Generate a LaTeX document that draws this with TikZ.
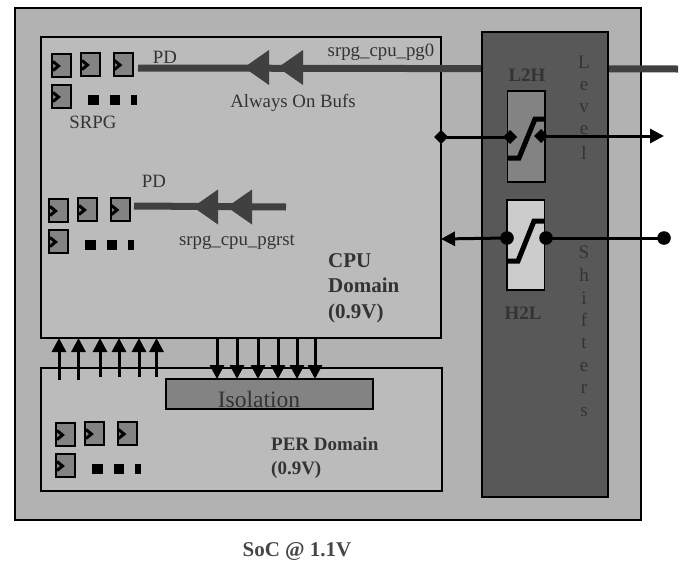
\documentclass[tikz,border=0pt]{standalone}
\usepackage{fontspec}
\setmainfont{Liberation Serif}
\usetikzlibrary{arrows.meta, positioning, calc}

\definecolor{socgray}{HTML}{B2B2B2}
\definecolor{domgray}{HTML}{BBBBBB}
\definecolor{lsgray}{HTML}{585858}
\definecolor{midgray}{HTML}{838383}
\definecolor{ltgray}{HTML}{CCCCCC}
\definecolor{wiregray}{HTML}{404040}
\definecolor{txtgray}{HTML}{333333}

\tikzset{
    box/.style={draw=black, line width=1.5, outer sep=0, inner sep=0, anchor=north west},
    lbl/.style={text=txtgray, font=\fontsize{18.8}{22}\selectfont, inner sep=0},
    blbl/.style={text=txtgray, font=\fontsize{19}{24}\selectfont\bfseries, inner sep=0, align=left},
    biglbl/.style={text=txtgray, font=\fontsize{21}{25.5}\selectfont\bfseries, inner sep=0, align=left},
    letter/.style={text=black!80, font=\fontsize{19}{22}\selectfont, inner sep=0},
    pwr/.style={draw=wiregray, line width=7},
    sig/.style={draw=black, line width=3},
    sigarrow/.style={sig, -{Triangle[width=14,length=14]}},
    lvlcurve/.style={draw=black, line width=5, miter limit=2},
    bufdrv/.pic={\fill[wiregray] (25,-17.5) -- (0,0) -- (25,17.5) -- cycle;},
    flop/.pic={
        \draw[fill=midgray, line width=2] (0,0) rectangle (19,23);
        \draw[line width=3] (1,7.5) -- (6.5,12) -- (1,16.5);
    },
    srpgbank/.pic={
        \pic at (0,1) {flop};
        \pic at (29,0) {flop};
        \pic at (61.5,0) {flop};
        \pic at (0,32) {flop};
        \fill (36,42) rectangle (47,52);
        \fill (58,42) rectangle (68,52);
        \fill (79,42) rectangle (85,52);
    }
}

\begin{document}
\begin{tikzpicture}[x=1pt, y=-1pt]
    \useasboundingbox (0,0) rectangle (685,560);

    % Domains
    \node[box, fill=socgray, minimum width=626, minimum height=512] (soc) at (15,8) {};
    \node[box, fill=domgray, minimum width=400, minimum height=301] (cpu) at (41,37) {};
    \node[box, fill=domgray, minimum width=401, minimum height=123] (per) at (41,368) {};
    \node[box, fill=midgray, minimum width=207, minimum height=30] (iso) at (166,379) {};
    \node[text=txtgray, font=\fontsize{23.5}{26}\selectfont, inner sep=0] (isotxt) at (259,399) {Isolation};

    % SRPG flops
    \pic at (52,53) {srpgbank};
    \pic at (49,198) {srpgbank};
    \pic at (56,422) {srpgbank};

    % Power gate wires
    \coordinate (pd1) at (138,68);
    \coordinate (pg0) at (678,69);
    \coordinate (pd2) at (134,206);
    \coordinate (rst) at (286,207);
    \draw[pwr] (pd1) -- (pg0);
    \draw[pwr] (pd2) -- (rst);
    \pic at (244,67.5) {bufdrv};
    \pic at (278,67.5) {bufdrv};
    \pic at (193,207) {bufdrv};
    \pic at (227,207) {bufdrv};

    % Level shifters
    \node[box, fill=lsgray, minimum width=126, minimum height=465] (ls) at (482,32) {};
    \node[box, fill=midgray, minimum width=37.5, minimum height=91] (l2h) at (507.5,91) {};
    \node[box, fill=ltgray, minimum width=37.5, minimum height=90] (h2l) at (507,200) {};
    \foreach \c/\y in {L/62, e/86, v/108, e/130, l/153, S/252, h/275, i/298, f/320, t/343, e/367, r/389, s/412}
        \node[letter] at (584,\y) {\c};

    \draw[lvlcurve] (507.5,158) -- (519,158) -- (535,119) -- (545,119);
    \draw[lvlcurve] (507,261) -- (518,261) -- (534,221) -- (544.5,221);

    % Level shifter signals
    \coordinate (l2hin) at (441,137);
    \coordinate (l2hleft) at (510,137);
    \coordinate (l2hright) at (541,136);
    \coordinate (l2hout) at (664,136);
    \coordinate (h2lout) at (441,239);
    \coordinate (h2lleft) at (507,238);
    \coordinate (h2lright) at (546,238);
    \coordinate (h2lin) at (664,238);
    \foreach \p in {l2hin, l2hleft, l2hright}
        \fill (\p) +(-7,0) -- +(0,-7) -- +(7,0) -- +(0,7) -- cycle;
    \foreach \p in {h2lleft, h2lright, h2lin}
        \fill (\p) circle (6.8);
    \draw[sig] (l2hin) -- (l2hleft);
    \draw[sigarrow] (l2hright) -- (l2hout);
    \draw[sigarrow] (h2lleft) -- (h2lout);
    \draw[sig] (h2lright) -- (h2lin);

    % Domain crossings
    \foreach \n/\x/\y in {1/59/380, 2/78.5/380, 3/100/377, 4/119/377, 5/139/377, 6/156.5/377} {
        \coordinate (up\n) at (\x,\y);
        \draw[sigarrow] (up\n) -- (up\n |- cpu.south);
    }
    \foreach \n/\x in {1/217, 2/237, 3/258, 4/278, 5/297, 6/315} {
        \coordinate (dn\n) at (\x,337);
        \draw[sigarrow] (dn\n) -- (dn\n |- iso.north);
    }

    % Labels
    \node[lbl] (pdtop) at (165,57) {PD};
    \node[lbl] (pdbot) at (154,181) {PD};
    \node[lbl] (pgname) at (381,52) {srpg\_cpu\_pg0};
    \node[lbl] (bufs) at (293,103) {Always On Bufs};
    \node[lbl] (srpg) at (93,122) {SRPG};
    \node[lbl] (rstname) at (237,242) {srpg\_cpu\_pgrst};
    \node[biglbl, anchor=north west] (cpulbl) at (328,253) {CPU\\Domain\\(0.9V)};
    \node[blbl, anchor=north west] (perlbl) at (271,437) {PER Domain\\(0.9V)};
    \node[blbl] (l2hlbl) at (527,75) {L2H};
    \node[blbl] (h2llbl) at (523,313) {H2L};
    \node[biglbl, text=black!72] (soclbl) at (297,551) {SoC @ 1.1V};
\end{tikzpicture}
\end{document}
